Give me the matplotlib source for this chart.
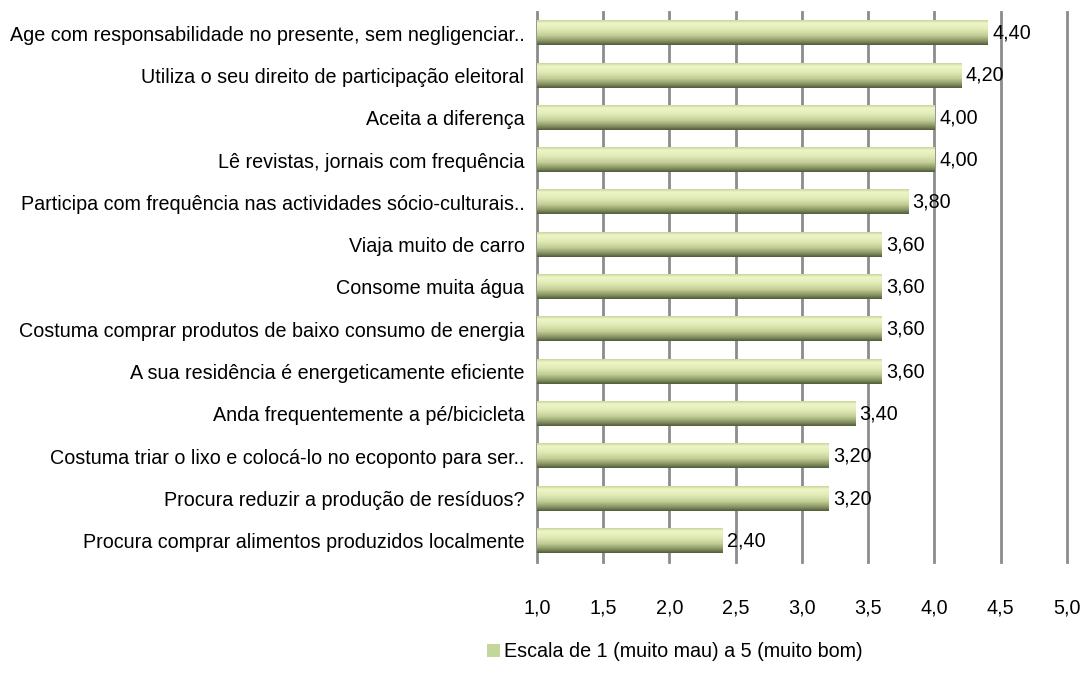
import matplotlib
matplotlib.use("Agg")
import matplotlib.pyplot as plt
import numpy as np
from matplotlib.colors import LinearSegmentedColormap
from matplotlib.patches import Patch

plt.rcParams['font.family'] = ['Liberation Sans', 'DejaVu Sans']

categories = [
    "Age com responsabilidade no presente, sem negligenciar..",
    "Utiliza o seu direito de participação eleitoral",
    "Aceita a diferença",
    "Lê revistas, jornais com frequência",
    "Participa com frequência nas actividades sócio-culturais..",
    "Viaja muito de carro",
    "Consome muita água",
    "Costuma comprar produtos de baixo consumo de energia",
    "A sua residência é energeticamente eficiente",
    "Anda frequentemente a pé/bicicleta",
    "Costuma triar o lixo e colocá-lo no ecoponto para ser..",
    "Procura reduzir a produção de resíduos?",
    "Procura comprar alimentos produzidos localmente",
]
values = [4.40, 4.20, 4.00, 4.00, 3.80, 3.60, 3.60, 3.60, 3.60, 3.40, 3.20, 3.20, 2.40]
xticks = [1.0, 1.5, 2.0, 2.5, 3.0, 3.5, 4.0, 4.5, 5.0]
legend_label = "Escala de 1 (muito mau) a 5 (muito bom)"

FS = 14.2

fig = plt.figure(figsize=(10.85, 6.82), dpi=100)
ax = fig.add_axes([0.4949, 0.176, 0.4885, 0.8064])

n = len(categories)
ypos = np.arange(n)[::-1]
bar_h = 0.57

# vertical gradient for the bars (top light, bottom dark olive)
cmap = LinearSegmentedColormap.from_list(
    "bar", [(0.0, "#c9d69c"), (0.12, "#eef6c8"), (0.35, "#e2ecb8"),
            (0.62, "#c2ce96"), (0.86, "#838f5e"), (1.0, "#505c3c")])
grad = np.linspace(0, 1, 64).reshape(-1, 1)

for y, v in zip(ypos, values):
    ax.imshow(grad, cmap=cmap, aspect='auto', interpolation='bilinear',
              extent=(1.0, v, y - bar_h / 2, y + bar_h / 2), origin='upper', zorder=3)
    ax.text(v + 0.035, y, f"{v:.2f}".replace('.', ','), va='center', ha='left',
            fontsize=FS, color='black', zorder=4)

ax.set_xlim(1.0, 5.0)
ax.set_ylim(-0.5, n - 0.5)
ax.set_xticks(xticks)
ax.set_xticklabels([f"{t:.1f}".replace('.', ',') for t in xticks], fontsize=FS)
ax.set_yticks(ypos)
ax.set_yticklabels(categories, fontsize=FS)

for t in xticks[1:]:
    ax.axvline(t, color='#8c8c8c', lw=2, zorder=1, clip_on=False)

for s in ['top', 'right', 'bottom']:
    ax.spines[s].set_visible(False)
ax.spines['left'].set_color('#8c8c8c')
ax.spines['left'].set_linewidth(2)
ax.tick_params(axis='x', length=0, pad=26)
ax.tick_params(axis='y', length=0, pad=9)

fig.legend(handles=[Patch(facecolor='#c4d79b', edgecolor='none', label=legend_label)],
           loc='center', bbox_to_anchor=(0.622, 0.044), frameon=False, fontsize=FS,
           handlelength=0.7, handleheight=0.7, handletextpad=0.2)

fig.savefig("out.png", dpi=100)
